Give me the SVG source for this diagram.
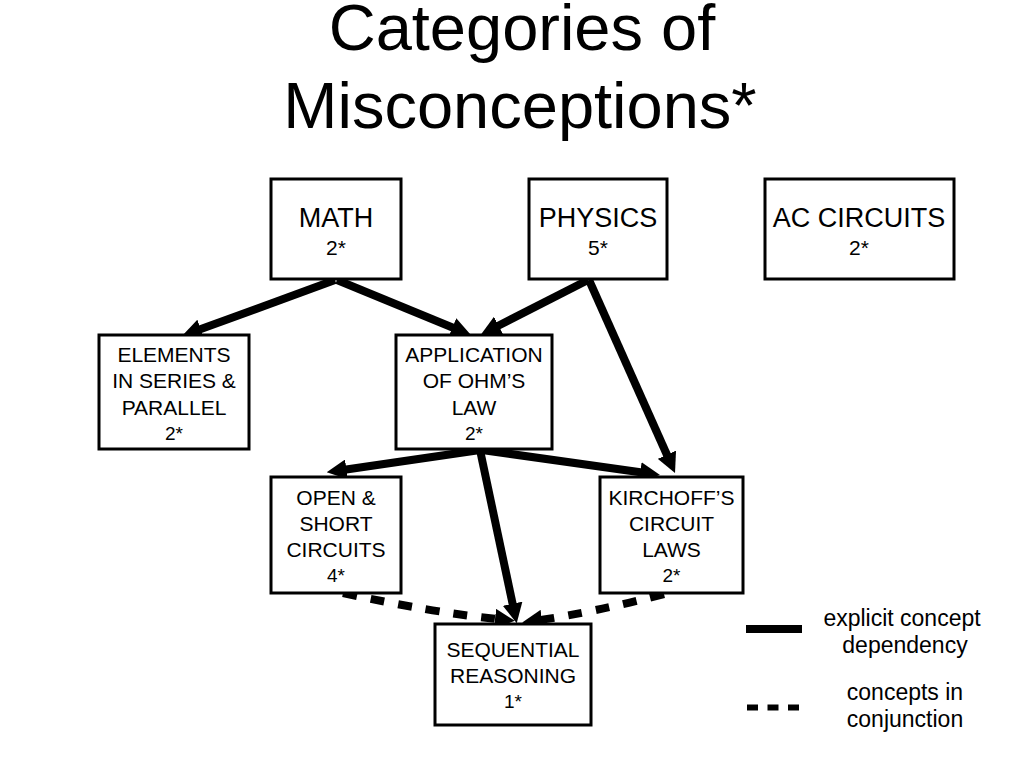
<svg xmlns="http://www.w3.org/2000/svg" width="1024" height="768" viewBox="0 0 1024 768">
<style>
text{font-family:"Liberation Sans",Arial,sans-serif;fill:#000;text-anchor:middle}
.title{font-size:65px}
.big{font-size:27px}
.bnum{font-size:21px}
.lbl{font-size:21px}
.num{font-size:19px}
.leg{font-size:23px}
.box{fill:#fff;stroke:#000;stroke-width:3}
.dep{fill:none;stroke:#000;stroke-width:8;marker-end:url(#ah)}
.conj{fill:none;stroke:#000;stroke-width:8;stroke-dasharray:14 14;marker-end:url(#ah)}
</style>
<defs>
<marker id="ah" viewBox="0 0 20 20" markerUnits="userSpaceOnUse" markerWidth="20" markerHeight="20" refX="2" refY="10" orient="auto">
<path d="M0,0 L20,10 L0,20 z" fill="#000"/>
</marker>
</defs>
<rect width="1024" height="768" fill="#fff"/>
<g id="title">
<text class="title" x="522" y="50">Categories of</text>
<text class="title" x="520" y="128">Misconceptions*</text>
</g>
<g id="connectors">
<path class="dep" d="M335,280 L198.9,329.8"/>
<path class="dep" d="M337,280 L454.3,328.2"/>
<path class="dep" d="M588,280 L496.8,326.5"/>
<path class="dep" d="M589,280 L667.7,456.5"/>
<path class="dep" d="M480,450 L344.5,469.7"/>
<path class="dep" d="M482,450 L642.2,472.5"/>
<path class="dep" d="M480,450 L513,605.7"/>
<path class="conj" d="M343,593 Q430,612 497,619"/>
<path class="conj" d="M664,594 Q590,613 540,620"/>
</g>
<g id="math">
<rect class="box" x="271" y="179" width="130" height="100"/>
<text class="big" x="336" y="227">MATH</text>
<text class="bnum" x="336" y="255">2*</text>
</g>
<g id="physics">
<rect class="box" x="529" y="179" width="138" height="100"/>
<text class="big" x="598" y="227">PHYSICS</text>
<text class="bnum" x="598" y="255">5*</text>
</g>
<g id="ac-circuits">
<rect class="box" x="765" y="179" width="189" height="100"/>
<text class="big" x="859" y="227">AC CIRCUITS</text>
<text class="bnum" x="859" y="255">2*</text>
</g>
<g id="elements">
<rect class="box" x="99" y="335" width="150" height="114"/>
<text class="lbl" x="174" y="362">ELEMENTS</text>
<text class="lbl" x="174" y="388">IN SERIES &amp;</text>
<text class="lbl" x="174" y="415">PARALLEL</text>
<text class="num" x="174" y="440">2*</text>
</g>
<g id="ohms-law">
<rect class="box" x="396" y="335" width="156" height="114"/>
<text class="lbl" x="474" y="362">APPLICATION</text>
<text class="lbl" x="474" y="388">OF OHM’S</text>
<text class="lbl" x="474" y="415">LAW</text>
<text class="num" x="474" y="440">2*</text>
</g>
<g id="open-short">
<rect class="box" x="271" y="477" width="130" height="116"/>
<text class="lbl" x="336" y="505">OPEN &amp;</text>
<text class="lbl" x="336" y="531">SHORT</text>
<text class="lbl" x="336" y="557">CIRCUITS</text>
<text class="num" x="336" y="582">4*</text>
</g>
<g id="kirchoff">
<rect class="box" x="600" y="477" width="143" height="116"/>
<text class="lbl" x="671.5" y="505">KIRCHOFF’S</text>
<text class="lbl" x="671.5" y="531">CIRCUIT</text>
<text class="lbl" x="671.5" y="557">LAWS</text>
<text class="num" x="671.5" y="582">2*</text>
</g>
<g id="sequential">
<rect class="box" x="435" y="624" width="156" height="101"/>
<text class="lbl" x="513" y="657">SEQUENTIAL</text>
<text class="lbl" x="513" y="683">REASONING</text>
<text class="num" x="513" y="708">1*</text>
</g>
<g id="legend">
<line x1="746" y1="629" x2="802" y2="629" stroke="#000" stroke-width="8"/>
<line x1="747" y1="707.5" x2="799" y2="707.5" stroke="#000" stroke-width="6" stroke-dasharray="11 9.5"/>
<text class="leg" x="902" y="626">explicit concept</text>
<text class="leg" x="905" y="653">dependency</text>
<text class="leg" x="905" y="700">concepts in</text>
<text class="leg" x="905" y="727">conjunction</text>
</g>
</svg>
